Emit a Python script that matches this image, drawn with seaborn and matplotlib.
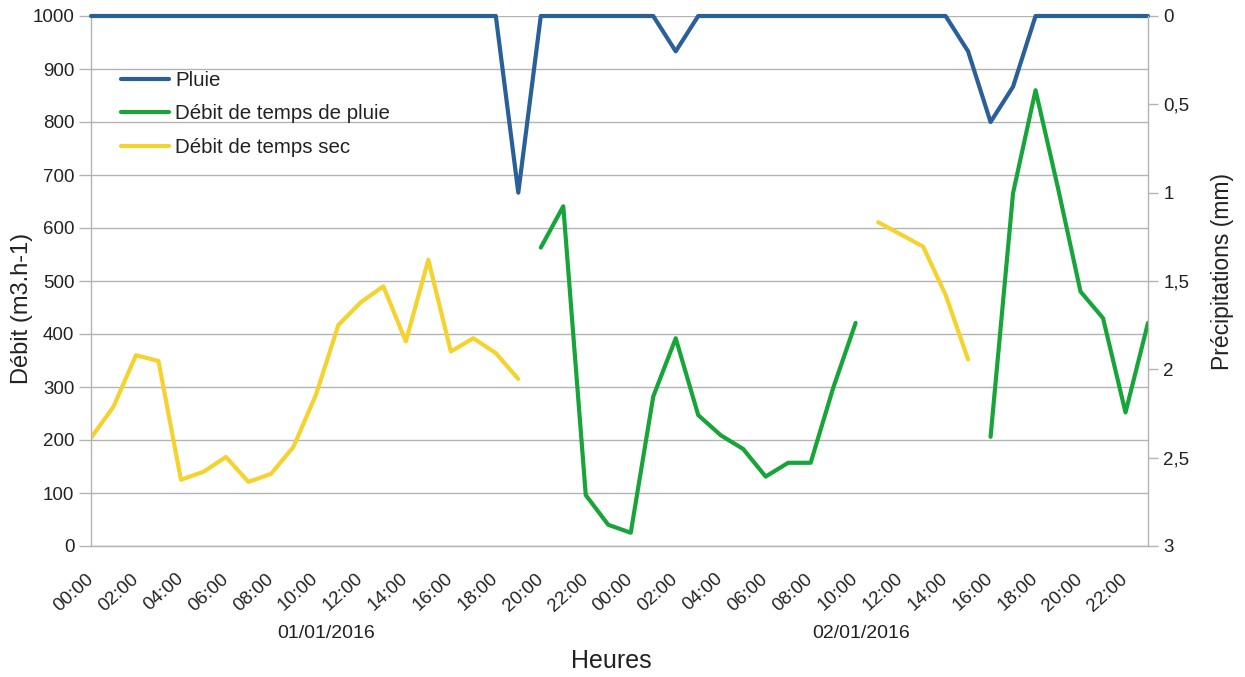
import numpy as np
import pandas as pd
import matplotlib
matplotlib.use("Agg")
import matplotlib.pyplot as plt
import seaborn as sns
from matplotlib.lines import Line2D
from matplotlib.ticker import FuncFormatter

# ---- data -------------------------------------------------------------
heures = list(range(48))  # 01/01/2016 00:00 -> 02/01/2016 23:00, hourly

heure_labels = ["00:00", "02:00", "04:00", "06:00", "08:00", "10:00",
                "12:00", "14:00", "16:00", "18:00", "20:00", "22:00",
                "00:00", "02:00", "04:00", "06:00", "08:00", "10:00",
                "12:00", "14:00", "16:00", "18:00", "20:00", "22:00"]
jours = ["01/01/2016", "02/01/2016"]

nan = np.nan

# Rainfall (mm), right axis
pluie_mm = [0, 0, 0, 0, 0, 0, 0, 0, 0, 0, 0, 0,
            0, 0, 0, 0, 0, 0, 0, 1.0, 0, 0, 0, 0,
            0, 0, 0.2, 0, 0, 0, 0, 0, 0, 0, 0, 0,
            0, 0, 0, 0.2, 0.6, 0.4, 0, 0, 0, 0, 0, 0]

# Wet-weather flow (m3/h)
debit_pluie = [nan, nan, nan, nan, nan, nan, nan, nan, nan, nan, nan, nan,
               nan, nan, nan, nan, nan, nan, nan, nan, 563, 641, 96, 40,
               25, 282, 392, 247, 209, 183, 131, 157, 157, 298, 421, nan,
               nan, nan, nan, nan, 206, 666, 860, 675, 480, 430, 252, 421]

# Dry-weather flow (m3/h)
debit_sec = [204, 263, 360, 349, 125, 140, 168, 121, 136, 187, 285, 417,
             460, 490, 386, 540, 367, 392, 364, 315, nan, nan, nan, nan,
             nan, nan, nan, nan, nan, nan, nan, nan, nan, nan, nan, 611,
             588, 565, 474, 352, nan, nan, nan, nan, nan, nan, nan, nan]

series_noms = ["Pluie", "Débit de temps de pluie", "Débit de temps sec"]
couleurs = ["#2a6099", "#17a53a", "#f5d22e"]


def troncons(values):
    """Long frame where each uninterrupted run of values gets its own id."""
    df = pd.DataFrame({"heure": heures, "valeur": values})
    df["troncon"] = df["valeur"].isna().cumsum()
    return df.dropna()


# ---- figure ------------------------------------------------------------
sns.set_style("white")
plt.rcParams["font.family"] = ["Liberation Sans", "DejaVu Sans"]

W, H = 1245, 677
fig = plt.figure(figsize=(W / 100, H / 100), dpi=100)
ax = fig.add_axes([91 / W, 1 - 546 / H, 1057 / W, 530 / H])
ax2 = ax.twinx()

grey = "#b3b3b3"
txt = "#222222"
tick_fs = 13.5

# flows on the left axis
sns.lineplot(data=troncons(debit_sec), x="heure", y="valeur", units="troncon",
             estimator=None, color=couleurs[2], lw=3, ax=ax, legend=False)
sns.lineplot(data=troncons(debit_pluie), x="heure", y="valeur", units="troncon",
             estimator=None, color=couleurs[1], lw=3, ax=ax, legend=False)

# rainfall on the inverted right axis
sns.lineplot(x=heures, y=pluie_mm, color=couleurs[0], lw=3, ax=ax2,
             legend=False, estimator=None)
for ln in ax2.get_lines():
    ln.set_clip_on(False)

# ---- axes styling ------------------------------------------------------
ax.set_xlim(0, 47)
ax.set_ylim(0, 1000)
ax2.set_ylim(3, 0)

ax.set_xticks(range(0, 48, 2))
ax.set_xticklabels(heure_labels, rotation=42, ha="right", va="center",
                   rotation_mode="anchor")
ax.set_xticks(range(1, 48, 2), minor=True)
ax.tick_params(axis="x", which="both", direction="out", length=7, width=1,
               color=grey, labelsize=tick_fs, labelcolor=txt, pad=15)

ax.set_yticks(range(0, 1001, 100))
ax.tick_params(axis="y", direction="out", length=9, width=1, color=grey,
               labelsize=tick_fs, labelcolor=txt, pad=3)

ax2.set_yticks([0, 0.5, 1, 1.5, 2, 2.5, 3])
ax2.yaxis.set_major_formatter(FuncFormatter(lambda v, _: f"{v:g}".replace(".", ",")))
ax2.tick_params(axis="y", direction="out", length=7, width=1, color=grey,
                labelsize=tick_fs, labelcolor=txt, pad=4)

ax.grid(False)
ax.yaxis.grid(True, color=grey, lw=1)
ax2.grid(False)
ax.set_axisbelow(True)

for a in (ax, ax2):
    for s in a.spines.values():
        s.set_visible(False)
ax.spines["left"].set_visible(True)
ax.spines["bottom"].set_visible(True)
ax2.spines["right"].set_visible(True)
for s in (ax.spines["left"], ax.spines["bottom"], ax2.spines["right"]):
    s.set_color(grey)
    s.set_linewidth(1)

ax.set_xlabel("")
ax.set_ylabel("")
ax2.set_ylabel("")

# ---- titles and day labels --------------------------------------------
fig.text(22 / W, 1 - 308 / H, "Débit (m3.h-1)", rotation=90, ha="center",
         va="center", fontsize=17, color=txt)
fig.text(1223 / W, 1 - 272 / H, "Précipitations (mm)", rotation=90,
         ha="center", va="center", fontsize=16.5, color=txt)
fig.text(611 / W, 1 - 661 / H, "Heures", ha="center", va="center",
         fontsize=18, color=txt)
fig.text(326 / W, 1 - 633 / H, jours[0], ha="center", va="center",
         fontsize=14, color=txt)
fig.text(861 / W, 1 - 633 / H, jours[1], ha="center", va="center",
         fontsize=14, color=txt)

# ---- legend ------------------------------------------------------------
handles = [Line2D([], [], color=c, lw=3) for c in couleurs]
fig.legend(handles, series_noms, loc="upper left",
           bbox_to_anchor=(121 / W, 1 - 71 / H), frameon=False, fontsize=14.8,
           handlelength=2.35, handletextpad=0.3, labelspacing=0.7,
           borderpad=0, borderaxespad=0, labelcolor=txt)

fig.savefig("out.png", dpi=100)
